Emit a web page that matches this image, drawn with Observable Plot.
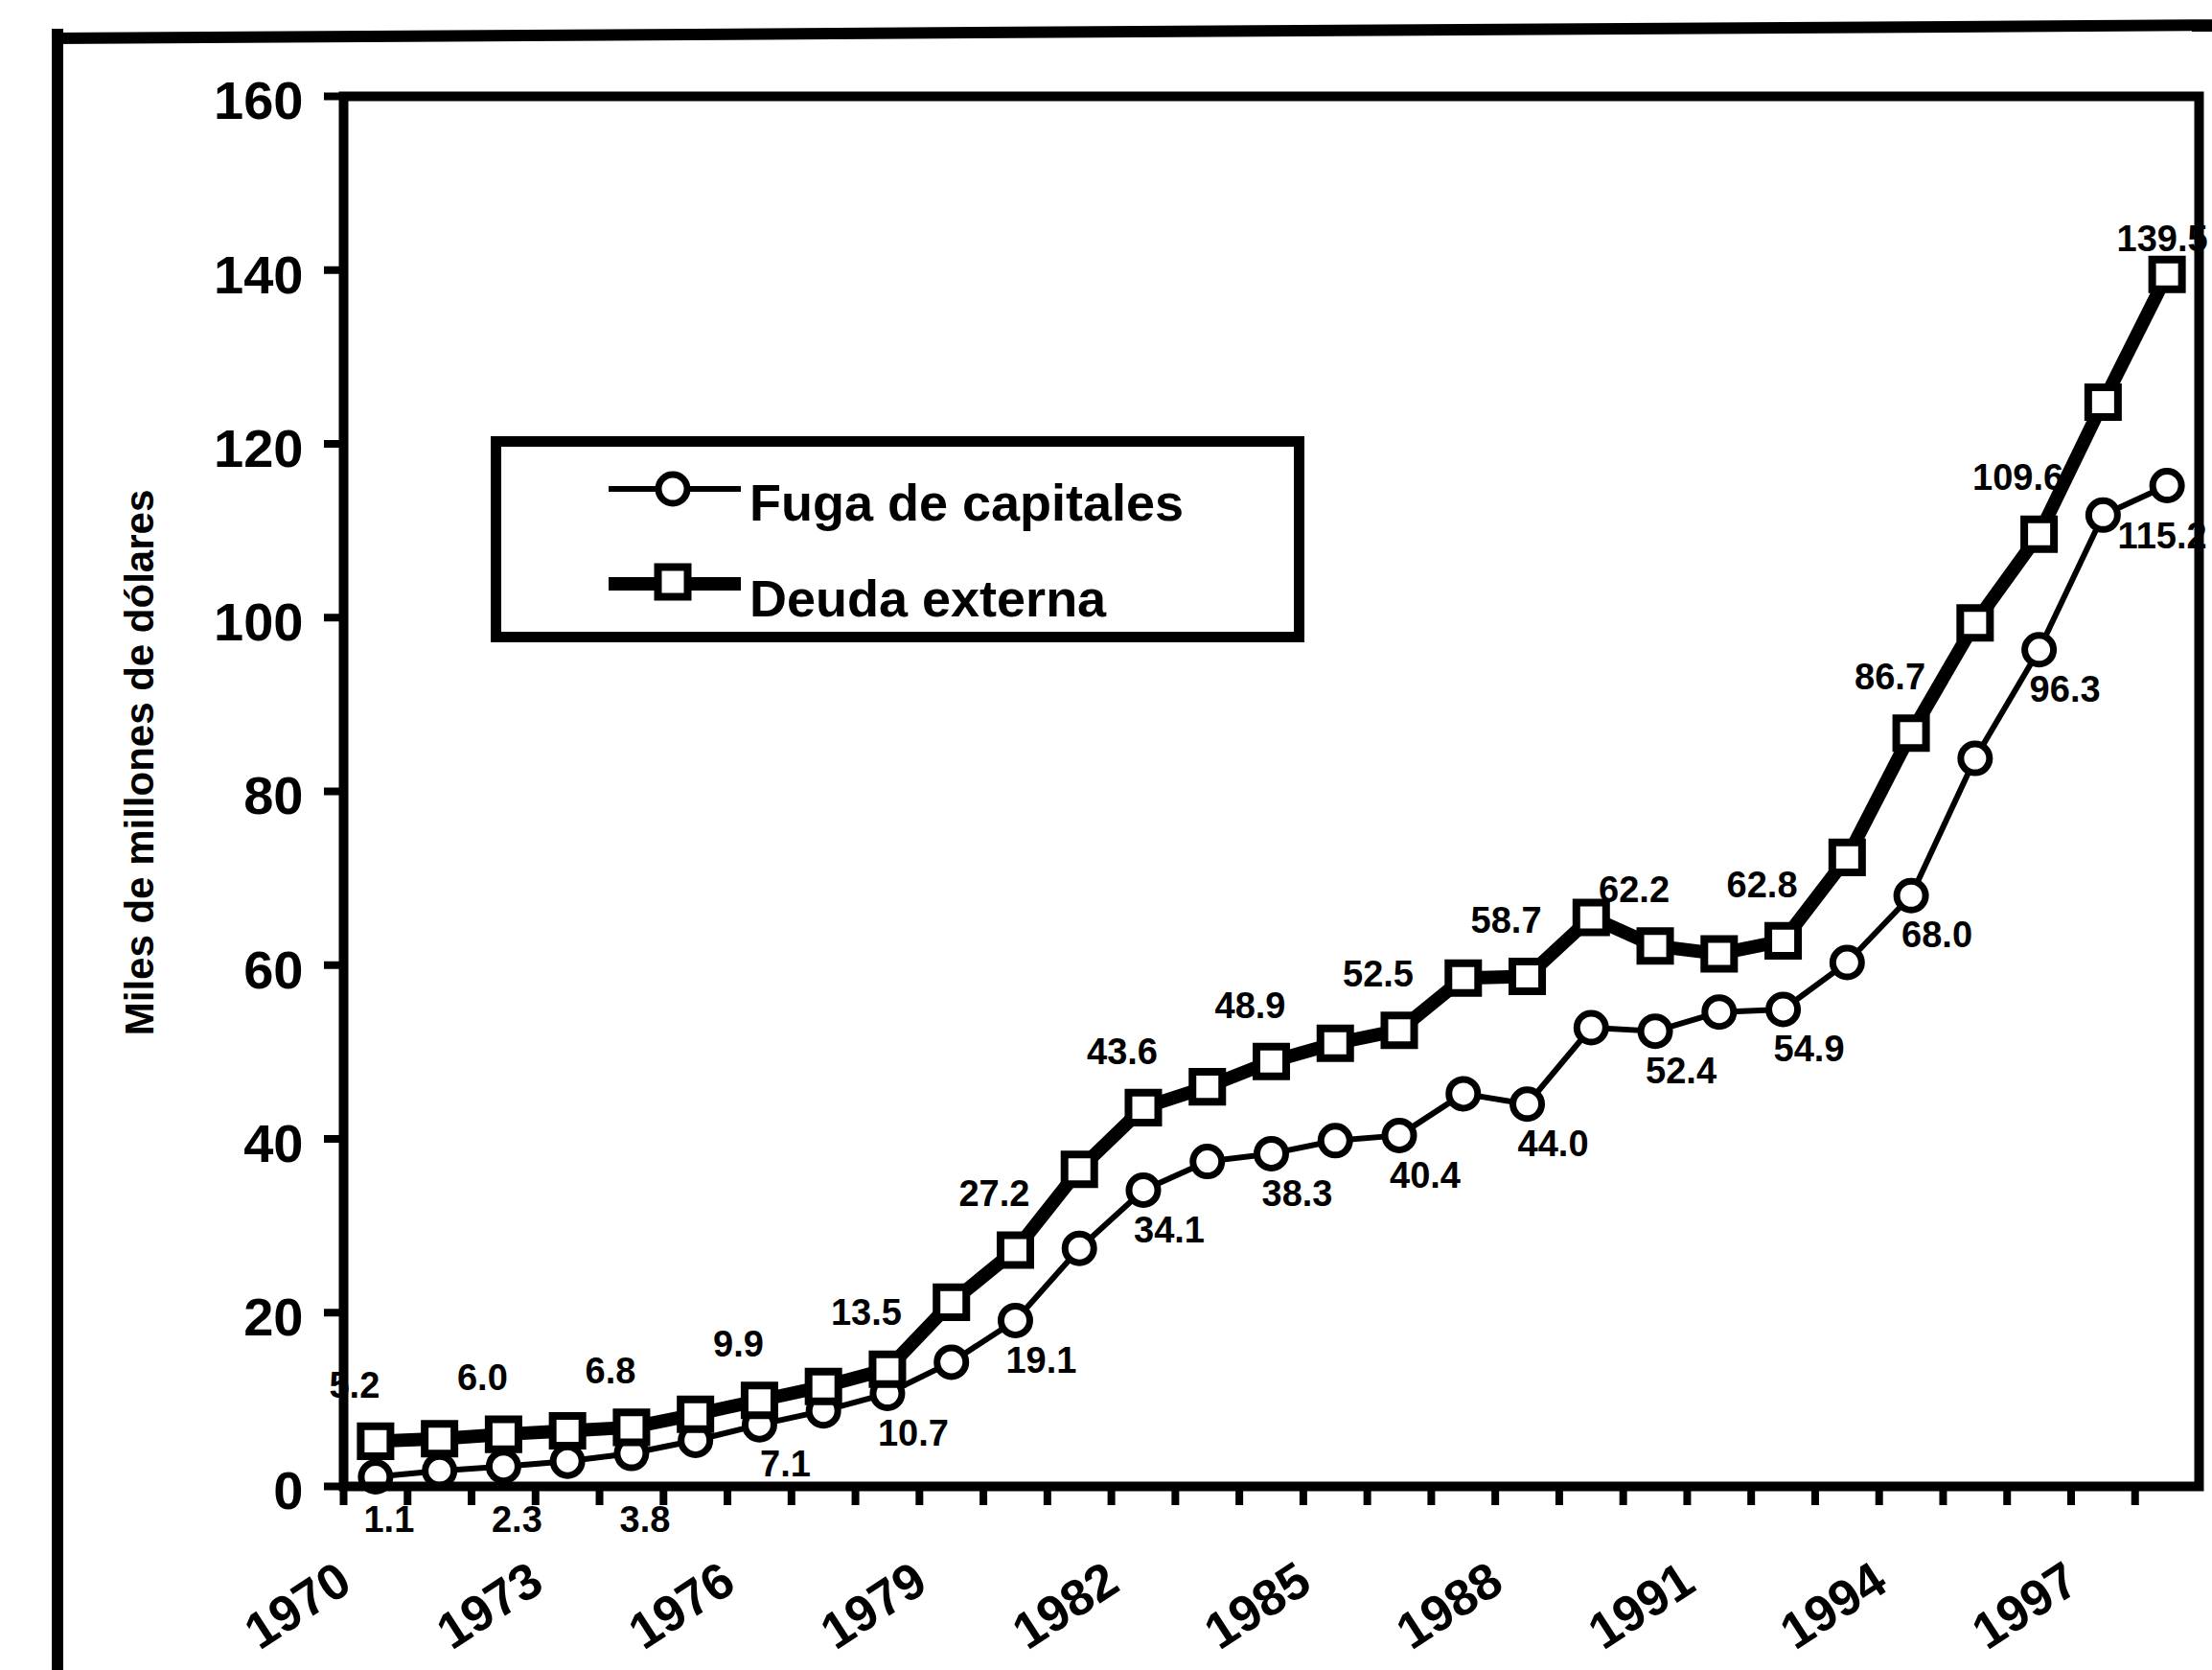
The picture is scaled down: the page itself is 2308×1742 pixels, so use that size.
<!DOCTYPE html>
<html>
<head>
<meta charset="utf-8">
<script src="https://cdn.jsdelivr.net/npm/d3@7"></script>
<script src="https://cdn.jsdelivr.net/npm/@observablehq/plot@0.6"></script>
<style>
  html, body { margin: 0; padding: 0; background: #fff; }
  #wrap { position: relative; width: 2308px; height: 1742px; overflow: hidden; background: #fff; }
  #chart svg { position: absolute; left: 0; top: 0; }
  .bar { position: absolute; background: #000; }
  #legend { position: absolute; left: 512px; top: 455px; width: 849px; height: 215px;
            box-sizing: border-box; border: 11px solid #000; background: #fff; }
  #legend svg { position: absolute; left: 0; top: 0; }
</style>
</head>
<body>
<div id="wrap">
  <div id="chart"></div>
  <div class="bar" style="left:54px; top:30px; width:12px; height:1742px;"></div>
  <div class="bar" style="left:54px; top:34px; width:2300px; height:12px; transform-origin:0 50%; transform:rotate(-0.35deg);"></div>
  <div id="legend"></div>
</div>
<script>
// ---- data ----
const years = [1970, 1971, 1972, 1973, 1974, 1975, 1976, 1977, 1978, 1979,
               1980, 1981, 1982, 1983, 1984, 1985, 1986, 1987, 1988, 1989,
               1990, 1991, 1992, 1993, 1994, 1995, 1996, 1997, 1998];
const fugaCapitales = [1.1, 1.8, 2.3, 2.9, 3.8, 5.3, 7.1, 8.7, 10.7, 14.3,
                       19.1, 27.4, 34.1, 37.4, 38.3, 39.8, 40.4, 45.2, 44.0, 52.8,
                       52.4, 54.6, 54.9, 60.3, 68.0, 83.8, 96.3, 111.8, 115.2];
const deudaExterna = [5.2, 5.5, 6.0, 6.4, 6.8, 8.3, 9.9, 11.5, 13.5, 21.2,
                      27.2, 36.5, 43.6, 46.0, 48.9, 51.0, 52.5, 58.5, 58.7, 65.5,
                      62.2, 61.3, 62.8, 72.4, 86.7, 99.4, 109.6, 124.8, 139.5];
const labeledYears = [1970, 1972, 1974, 1976, 1978, 1980, 1982, 1984, 1986, 1988,
                      1990, 1992, 1994, 1996, 1998];
const xTickLabels = [1970, 1973, 1976, 1979, 1982, 1985, 1988, 1991, 1994, 1997];
const yTicks = [0, 20, 40, 60, 80, 100, 120, 140, 160];
const seriesNames = ["Fuga de capitales", "Deuda externa"];
const yTitle = "Miles de millones de dólares";

// ---- layout ----
const W = 2308, H = 1742;
const mL = 358, mR = 14, mT = 100, mB = 192;
const font = "'Liberation Sans', Arial, Helvetica, sans-serif";

const rows = years.map((year, i) => ({year, fuga: fugaCapitales[i], deuda: deudaExterna[i]}));
const bw = (W - mL - mR) / years.length;
const lastYear = years[years.length - 1];
const isLab = d => labeledYears.includes(d.year);
const lab = {fontSize: 38, fontWeight: "bold", fill: "black", textAnchor: "middle", lineAnchor: "middle"};

const chart = Plot.plot({
  width: W, height: H,
  marginLeft: mL, marginRight: mR, marginTop: mT, marginBottom: mB,
  style: {fontFamily: font, background: "transparent", color: "black", overflow: "visible"},
  x: {type: "band", domain: years, padding: 0, round: false, label: null},
  y: {domain: [0, 160], label: null},
  marks: [
    Plot.line(rows, {x: "year", y: "fuga", stroke: "black", strokeWidth: 6, strokeLinejoin: "round"}),
    Plot.line(rows, {x: "year", y: "deuda", stroke: "black", strokeWidth: 14, strokeLinejoin: "round"}),
    Plot.dot(rows, {x: "year", y: "fuga", symbol: "circle", r: 15, fill: "white", stroke: "black", strokeWidth: 7}),
    Plot.dot(rows, {x: "year", y: "deuda", symbol: "square", r: 17.5, fill: "white", stroke: "black", strokeWidth: 8}),
    // data labels: Deuda externa above-left, Fuga de capitales below-right
    Plot.text(rows.filter(d => isLab(d) && d.year !== lastYear),
      {x: "year", y: "deuda", text: d => d.deuda.toFixed(1), dx: -22, dy: -58, ...lab}),
    Plot.text(rows.filter(d => d.year === lastYear),
      {x: "year", y: "deuda", text: d => d.deuda.toFixed(1), dx: -5, dy: -36, ...lab}),
    Plot.text(rows.filter(d => isLab(d) && d.year !== lastYear && d.fuga >= 5),
      {x: "year", y: "fuga", text: d => d.fuga.toFixed(1), dx: 27, dy: 42, ...lab}),
    Plot.text(rows.filter(d => isLab(d) && d.fuga < 5),
      {x: "year", y: () => 0, text: d => d.fuga.toFixed(1), dx: 14, dy: 35, ...lab}),
    Plot.text(rows.filter(d => d.year === lastYear),
      {x: "year", y: "fuga", text: d => d.fuga.toFixed(1), dx: -5, dy: 53, ...lab}),
    // y axis: tick marks, then labels (slightly lowered, as in the reference)
    Plot.axisY({ticks: yTicks, tickSize: 20, strokeWidth: 8, label: null, tickFormat: () => ""}),
    Plot.axisY({ticks: yTicks, tickSize: 0, tickPadding: 42, dy: 6,
      fontSize: 56, fontWeight: "bold", label: null, tickFormat: d => String(d)}),
    // x axis: ticks between categories, rotated labels every three years
    Plot.axisX({ticks: years, tickSize: 20, strokeWidth: 8, dx: -bw / 2, label: null, tickFormat: () => ""}),
    Plot.axisX({ticks: xTickLabels, tickSize: 0, tickPadding: 93, dx: -bw / 2 + 2,
      rotate: -33, textAnchor: "end", lineAnchor: "middle",
      fontSize: 53, fontWeight: "bold", label: null, tickFormat: d => String(d)}),
    Plot.text([yTitle], {text: d => d, frameAnchor: "left", textAnchor: "middle", lineAnchor: "middle",
      rotate: -90, dx: -212, dy: -30, fontSize: 42, fontWeight: "bold", fill: "black"}),
    Plot.frame({stroke: "black", strokeWidth: 10})
  ]
});
document.getElementById("chart").appendChild(chart);

// ---- legend (inside the plot area, as in the reference) ----
const ns = "http://www.w3.org/2000/svg";
const lsvg = document.createElementNS(ns, "svg");
lsvg.setAttribute("width", 827); lsvg.setAttribute("height", 193);
lsvg.setAttribute("font-family", font);
const legendRows = [
  {name: seriesNames[0], y: 44, ty: 77, lw: 6, symbol: "circle"},
  {name: seriesNames[1], y: 143, ty: 177, lw: 14, symbol: "square"}
];
for (const r of legendRows) {
  const ln = document.createElementNS(ns, "line");
  ln.setAttribute("x1", 112); ln.setAttribute("x2", 250);
  ln.setAttribute("y1", r.y); ln.setAttribute("y2", r.y);
  ln.setAttribute("stroke", "black"); ln.setAttribute("stroke-width", r.lw);
  lsvg.appendChild(ln);
  let m;
  if (r.symbol === "circle") {
    m = document.createElementNS(ns, "circle");
    m.setAttribute("cx", 179); m.setAttribute("cy", r.y); m.setAttribute("r", 15);
    m.setAttribute("stroke-width", 7);
  } else {
    m = document.createElementNS(ns, "rect");
    m.setAttribute("x", 179 - 15.5); m.setAttribute("y", r.y - 2 - 15.5);
    m.setAttribute("width", 31); m.setAttribute("height", 31);
    m.setAttribute("stroke-width", 8);
  }
  m.setAttribute("fill", "white"); m.setAttribute("stroke", "black");
  lsvg.appendChild(m);
  const t = document.createElementNS(ns, "text");
  t.setAttribute("x", 259); t.setAttribute("y", r.ty);
  t.setAttribute("font-size", 54); t.setAttribute("font-weight", "bold");
  t.setAttribute("fill", "black");
  t.textContent = r.name;
  lsvg.appendChild(t);
}
document.getElementById("legend").appendChild(lsvg);
</script>
</body>
</html>
